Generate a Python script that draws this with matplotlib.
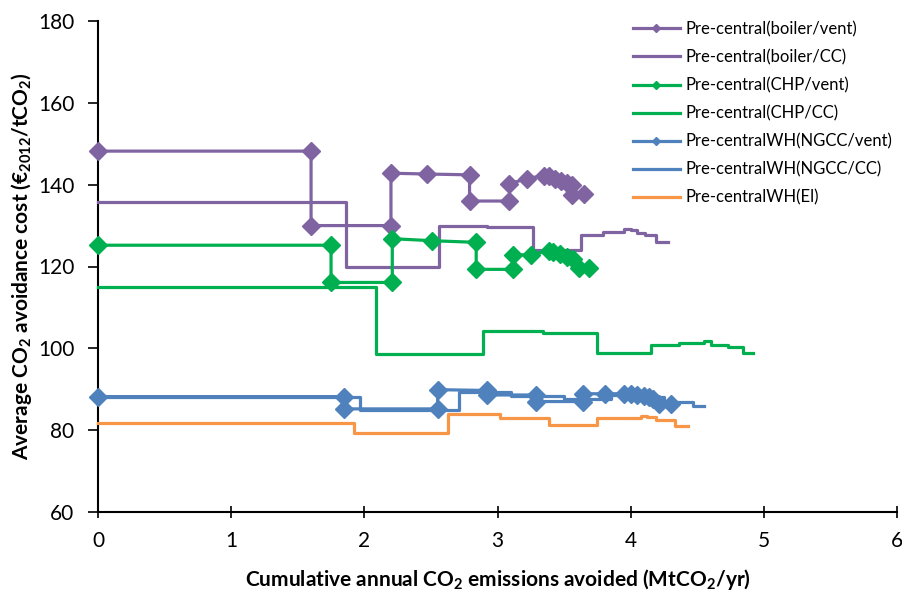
"""
Average CO2 avoidance cost vs cumulative avoided emissions (step curves)
"""

import matplotlib
matplotlib.use('Agg')
import matplotlib.pyplot as plt

plt.rcParams['font.family'] = ['Lato', 'DejaVu Sans']
plt.rcParams['mathtext.fontset'] = 'custom'
plt.rcParams['mathtext.rm'] = 'Lato'
plt.rcParams['mathtext.bf'] = 'Lato:bold'

# Pre-central(boiler/vent)
boiler_vent_x = [0, 1.6, 1.6, 2.2, 2.2, 2.47, 2.79, 2.79, 3.09, 3.09, 3.22, 3.35,
                 3.39, 3.43, 3.48, 3.52, 3.56, 3.56, 3.65]
boiler_vent_y = [148.2, 148.2, 130, 130, 142.8, 142.6, 142.4, 136, 136, 140.2, 141.5, 142.2,
                 142, 141.5, 141, 140.3, 139.8, 137.5, 137.8]

# Pre-central(boiler/CC)
boiler_cc_x = [0, 1.86, 1.86, 2.56, 2.56, 2.92, 2.92, 3.27, 3.27, 3.63, 3.63, 3.79, 3.79,
               3.95, 3.95, 4.0, 4.0, 4.05, 4.05, 4.11, 4.11, 4.19, 4.19, 4.28]
boiler_cc_y = [135.7, 135.7, 119.8, 119.8, 130, 130, 129.6, 129.6, 124.1, 124.1, 127.6, 127.6, 128.4,
               128.4, 129.2, 129.2, 128.8, 128.8, 128.1, 128.1, 127.6, 127.6, 125.9, 125.9]

# Pre-central(CHP/vent)
chp_vent_x = [0, 1.75, 1.75, 2.21, 2.21, 2.51, 2.84, 2.84, 3.12, 3.12, 3.25, 3.39,
              3.42, 3.47, 3.52, 3.57, 3.61, 3.69]
chp_vent_y = [125.2, 125.2, 116.1, 116.1, 126.8, 126.3, 125.9, 119.3, 119.3, 122.8, 122.9, 123.8,
              123.6, 123.1, 122.4, 121.9, 119.6, 119.6]

# Pre-central(CHP/CC)
chp_cc_x = [0, 2.09, 2.09, 2.89, 2.89, 3.34, 3.34, 3.75, 3.75, 4.15, 4.15, 4.36, 4.36,
            4.55, 4.55, 4.6, 4.6, 4.73, 4.73, 4.84, 4.84, 4.92]
chp_cc_y = [115, 115, 98.5, 98.5, 104.2, 104.2, 103.8, 103.8, 98.9, 98.9, 100.9, 100.9, 101.3,
            101.3, 101.8, 101.8, 100.9, 100.9, 100.3, 100.3, 98.8, 98.8]

# Pre-centralWH(NGCC/vent)
ngcc_vent_x = [0, 1.85, 1.85, 2.55, 2.55, 2.92, 2.92, 3.29, 3.29, 3.64, 3.64, 3.81, 3.95,
               4.0, 4.05, 4.1, 4.14, 4.17, 4.21, 4.3]
ngcc_vent_y = [88.2, 88.2, 85.2, 85.2, 89.9, 89.7, 88.6, 88.6, 87.0, 87.0, 88.9, 88.9, 88.9,
               88.8, 88.6, 88.3, 88.0, 87.5, 86.4, 86.3]

# Pre-centralWH(NGCC/CC)
ngcc_cc_x = [0, 1.97, 1.97, 2.71, 2.71, 3.1, 3.1, 3.5, 3.5, 3.85, 3.85, 4.05, 4.05, 4.25,
             4.25, 4.47, 4.47, 4.55]
ngcc_cc_y = [88, 88, 85, 85, 89.4, 89.4, 88.3, 88.3, 87.5, 87.5, 88.6, 88.6, 88.0, 88.0,
             86.9, 86.9, 85.8, 85.8]

# Pre-centralWH(El)
el_x = [0, 1.92, 1.92, 2.63, 2.63, 3.02, 3.02, 3.39, 3.39, 3.75, 3.75, 4.08, 4.08, 4.12,
        4.12, 4.19, 4.19, 4.33, 4.33, 4.43]
el_y = [81.8, 81.8, 79.3, 79.3, 83.9, 83.9, 83.0, 83.0, 81.2, 81.2, 83.0, 83.0, 83.5, 83.5,
        83.1, 83.1, 82.6, 82.6, 80.9, 80.9]

purple = '#8064A2'
green = '#00B050'
blue = '#4F81BD'
orange = '#F79646'

fig = plt.figure(figsize=(9.02, 5.9), dpi=100)
ax = fig.add_axes([98 / 902, 1 - 512 / 590, (897 - 98) / 902, (512 - 21) / 590])

lw = 2.3
ms = 9
ax.plot(boiler_vent_x, boiler_vent_y, color=purple, lw=lw, marker='D', ms=ms,
        label='Pre-central(boiler/vent)')
ax.plot(boiler_cc_x, boiler_cc_y, color=purple, lw=lw, label='Pre-central(boiler/CC)')
ax.plot(chp_vent_x, chp_vent_y, color=green, lw=lw, marker='D', ms=ms,
        label='Pre-central(CHP/vent)')
ax.plot(chp_cc_x, chp_cc_y, color=green, lw=lw, label='Pre-central(CHP/CC)')
ax.plot(ngcc_vent_x, ngcc_vent_y, color=blue, lw=lw, marker='D', ms=ms,
        label='Pre-centralWH(NGCC/vent)')
ax.plot(ngcc_cc_x, ngcc_cc_y, color=blue, lw=lw, label='Pre-centralWH(NGCC/CC)')
ax.plot(el_x, el_y, color=orange, lw=lw, label='Pre-centralWH(El)')

ax.set_xlim(0, 6)
ax.set_ylim(60, 180)
ax.set_xticks(range(0, 7))
ax.set_yticks(range(60, 181, 20))

for side in ['top', 'right']:
    ax.spines[side].set_visible(False)
for side in ['left', 'bottom']:
    ax.spines[side].set_linewidth(1.5)
    ax.spines[side].set_color('black')
    ax.spines[side].set_zorder(0.5)

ax.tick_params(axis='y', direction='out', length=7, width=1.2, labelsize=15, pad=10)
ax.tick_params(axis='x', direction='inout', length=8, width=1.2, labelsize=15, pad=10)

ax.set_xlabel(r'Cumulative annual CO$_{\mathbf{2}}$ emissions avoided (MtCO$_{\mathbf{2}}$/yr)',
              fontsize=15, fontweight='bold', labelpad=11)
ax.set_ylabel(r'Average CO$_{\mathbf{2}}$ avoidance cost (€$_{\mathbf{2012}}$/tCO$_{\mathbf{2}}$)',
              fontsize=15, fontweight='bold', labelpad=3)

ax.legend(loc='upper left', bbox_to_anchor=(633 / 902, 1 - 21 / 590),
          bbox_transform=fig.transFigure, frameon=False, fontsize=12,
          handlelength=2.8, handletextpad=0.35, labelspacing=0.72, markerscale=0.5,
          borderaxespad=0, borderpad=0)

for line in ax.lines:
    line.set_clip_on(False)

plt.savefig('out.png', dpi=100)
